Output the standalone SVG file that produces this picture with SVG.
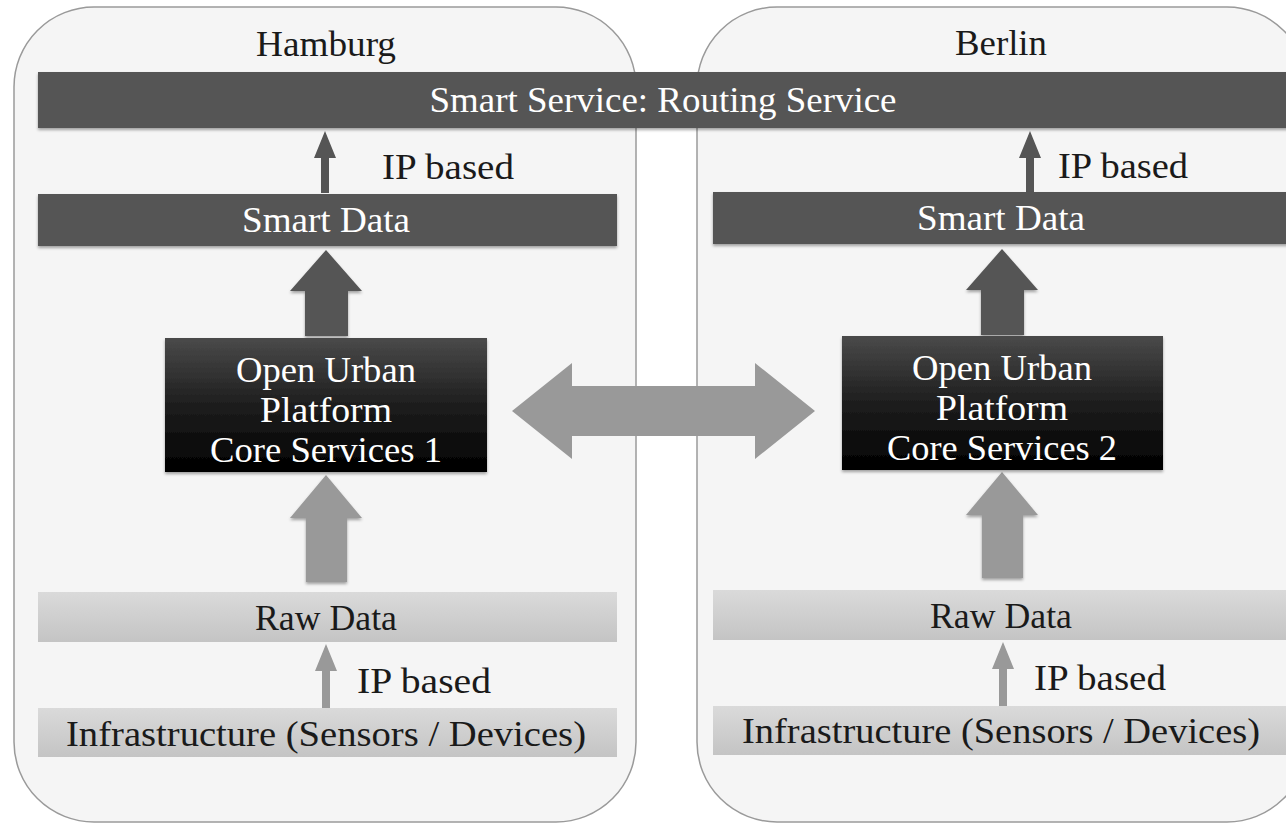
<svg xmlns="http://www.w3.org/2000/svg" width="1286" height="825" viewBox="0 0 1286 825">
<style>
.container{fill:#f5f5f5;stroke:#9a9a9a;stroke-width:1.5}
.dark{fill:#555555}
.light{fill:url(#lightGrad)}
.t{font-family:"Liberation Serif","DejaVu Serif",serif;font-size:35px;text-anchor:middle}
.w{fill:#ffffff}
.k{fill:#1a1a1a}
</style>
<defs>
<linearGradient id="blackGrad" x1="0" y1="0" x2="0" y2="1">
<stop offset="0" stop-color="#4a4a4a"/>
<stop offset="0.5" stop-color="#1e1e1e"/>
<stop offset="1" stop-color="#000000"/>
</linearGradient>
<linearGradient id="lightGrad" x1="0" y1="0" x2="0" y2="1">
<stop offset="0" stop-color="#dadada"/>
<stop offset="1" stop-color="#c4c4c4"/>
</linearGradient>
<filter id="sh" x="-5%" y="-20%" width="110%" height="150%">
<feDropShadow dx="0" dy="2" stdDeviation="1.5" flood-color="#000" flood-opacity="0.35"/>
</filter>
</defs>

<g id="hamburg">
<rect class="container" x="14" y="7" width="622" height="815" rx="80" ry="80"/>
<text class="t k" x="326" y="56" textLength="140" lengthAdjust="spacingAndGlyphs">Hamburg</text>
</g>
<g id="berlin">
<rect class="container" x="697" y="7" width="610" height="815" rx="80" ry="80"/>
<text class="t k" x="1001" y="55" textLength="92" lengthAdjust="spacingAndGlyphs">Berlin</text>
</g>

<g id="connectors">
<!-- IP based top arrows (dark) -->
<path class="dark" d="M325,131 L336,158 L329,158 L329,193 L321,193 L321,158 L314,158 Z"/>
<path class="dark" d="M1030,131 L1041,158 L1034,158 L1034,192 L1026,192 L1026,158 L1019,158 Z"/>
<!-- thick dark arrows OUP -> Smart Data -->
<path class="dark" filter="url(#sh)" d="M326,250 L362,291 L348,291 L348,336 L305,336 L305,291 L290,291 Z"/>
<path class="dark" filter="url(#sh)" d="M1002,249 L1038,290 L1024,290 L1024,335 L981,335 L981,290 L966,290 Z"/>
<!-- double arrow -->
<path fill="#999999" d="M512,411 L572,363 L572,386 L755,386 L755,363 L815,411 L755,459 L755,436 L572,436 L572,459 Z"/>
<!-- thick light arrows Raw Data -> OUP -->
<path fill="#999999" filter="url(#sh)" d="M326,475 L362,518 L347,518 L347,582 L306,582 L306,518 L290,518 Z"/>
<path fill="#999999" filter="url(#sh)" d="M1002,472 L1038,515 L1023,515 L1023,578 L982,578 L982,515 L966,515 Z"/>
<!-- IP based bottom arrows (light) -->
<path fill="#999999" d="M326,644 L337,671 L330,671 L330,708 L322,708 L322,671 L315,671 Z"/>
<path fill="#999999" d="M1003,642 L1014,669 L1007,669 L1007,706 L999,706 L999,669 L992,669 Z"/>
<text class="t k" x="448" y="179" textLength="132" lengthAdjust="spacingAndGlyphs">IP based</text>
<text class="t k" x="1123" y="178" textLength="130" lengthAdjust="spacingAndGlyphs">IP based</text>
<text class="t k" x="424" y="693" textLength="134" lengthAdjust="spacingAndGlyphs">IP based</text>
<text class="t k" x="1100" y="690" textLength="132" lengthAdjust="spacingAndGlyphs">IP based</text>
</g>

<g id="smart-service">
<rect class="dark" filter="url(#sh)" x="38" y="72" width="1260" height="56"/>
<text class="t w" x="663" y="112" textLength="467" lengthAdjust="spacingAndGlyphs">Smart Service: Routing Service</text>
</g>

<g id="smart-data-1">
<rect class="dark" filter="url(#sh)" x="38" y="194" width="579" height="52"/>
<text class="t w" x="326" y="232" textLength="168" lengthAdjust="spacingAndGlyphs">Smart Data</text>
</g>
<g id="smart-data-2">
<rect class="dark" filter="url(#sh)" x="713" y="192" width="585" height="52"/>
<text class="t w" x="1001" y="230" textLength="168" lengthAdjust="spacingAndGlyphs">Smart Data</text>
</g>

<g id="oup-1">
<rect fill="url(#blackGrad)" filter="url(#sh)" x="165" y="338" width="322" height="134"/>
<text class="t w" x="326" y="382" textLength="180" lengthAdjust="spacingAndGlyphs">Open Urban</text>
<text class="t w" x="326" y="422" textLength="132" lengthAdjust="spacingAndGlyphs">Platform</text>
<text class="t w" x="326" y="462" textLength="232" lengthAdjust="spacingAndGlyphs">Core Services 1</text>
</g>
<g id="oup-2">
<rect fill="url(#blackGrad)" filter="url(#sh)" x="842" y="336" width="321" height="134"/>
<text class="t w" x="1002" y="380" textLength="180" lengthAdjust="spacingAndGlyphs">Open Urban</text>
<text class="t w" x="1002" y="420" textLength="132" lengthAdjust="spacingAndGlyphs">Platform</text>
<text class="t w" x="1002" y="460" textLength="230" lengthAdjust="spacingAndGlyphs">Core Services 2</text>
</g>

<g id="raw-data-1">
<rect class="light" x="38" y="592" width="579" height="50"/>
<text class="t k" x="326" y="630" textLength="142" lengthAdjust="spacingAndGlyphs">Raw Data</text>
</g>
<g id="raw-data-2">
<rect class="light" x="713" y="590" width="585" height="50"/>
<text class="t k" x="1001" y="628" textLength="142" lengthAdjust="spacingAndGlyphs">Raw Data</text>
</g>

<g id="infra-1">
<rect class="light" x="38" y="708" width="579" height="49"/>
<text class="t k" x="326" y="746" textLength="520" lengthAdjust="spacingAndGlyphs">Infrastructure (Sensors / Devices)</text>
</g>
<g id="infra-2">
<rect class="light" x="713" y="706" width="585" height="49"/>
<text class="t k" x="1001" y="743" textLength="518" lengthAdjust="spacingAndGlyphs">Infrastructure (Sensors / Devices)</text>
</g>
</svg>
